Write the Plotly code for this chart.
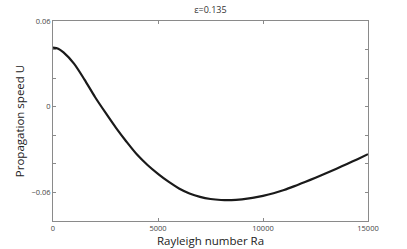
import plotly.graph_objects as go

ra = [0, 250, 500, 1000, 1500, 2000, 2500, 3000, 3500, 4000, 4500, 5000, 5500,
      6000, 6500, 7000, 7500, 8000, 8500, 9000, 9500, 10000, 10500, 11000,
      11500, 12000, 12500, 13000, 13500, 14000, 14500, 15000]
u = [0.0413, 0.0406, 0.0380, 0.0302, 0.0190, 0.0068, -0.0042, -0.0148, -0.0245,
     -0.0335, -0.0408, -0.0470, -0.0525, -0.0572, -0.0607, -0.0631, -0.0646,
     -0.0653, -0.0654, -0.0648, -0.0638, -0.0624, -0.0606, -0.0583, -0.0556,
     -0.0527, -0.0497, -0.0466, -0.0434, -0.0401, -0.0367, -0.0332]

y_tickvals = [-0.08, -0.06, -0.04, -0.02, 0, 0.02, 0.04, 0.06]
y_ticktext = ["", "\u22120.06", "", "", "0", "", "", "0.06"]
x_tickvals = [0, 5000, 10000, 15000]
x_ticktext = ["0", "5000", "10000", "15000"]

fig = go.Figure(go.Scatter(x=ra, y=u, mode="lines",
                           line=dict(color="#1a1a1a", width=2.2, shape="spline", smoothing=0.8)))

axis_common = dict(showline=True, linecolor="#8a8a8a", linewidth=1, mirror="ticks",
                   ticks="inside", ticklen=3, tickcolor="#8a8a8a", showgrid=False,
                   zeroline=False, automargin=False,
                   tickfont=dict(size=7.5, color="#444444"))

fig.update_layout(
    width=407, height=249,
    margin=dict(l=53, r=39, t=21, b=28, autoexpand=False),
    paper_bgcolor="white", plot_bgcolor="white",
    font=dict(family="Open Sans", color="#222222"),
    showlegend=False,
    title=dict(text="\u03b5=0.135", x=0.517, xanchor="center", y=0.96, yanchor="middle",
               font=dict(size=9, color="#333333")),
    xaxis=dict(range=[0, 15000], tickvals=x_tickvals, ticktext=x_ticktext,
               title=dict(text="Rayleigh number Ra", font=dict(size=11.5, color="#222222"), standoff=2),
               **axis_common),
    yaxis=dict(range=[-0.08, 0.06], tickvals=y_tickvals, ticktext=y_ticktext,
               title=dict(text="Propagation speed U", font=dict(size=11.5, color="#222222"), standoff=4),
               **axis_common),
)

fig.write_html("out.html", config={"displayModeBar": False},
               post_script="document.body.style.margin='0';document.body.style.overflow='hidden';")
